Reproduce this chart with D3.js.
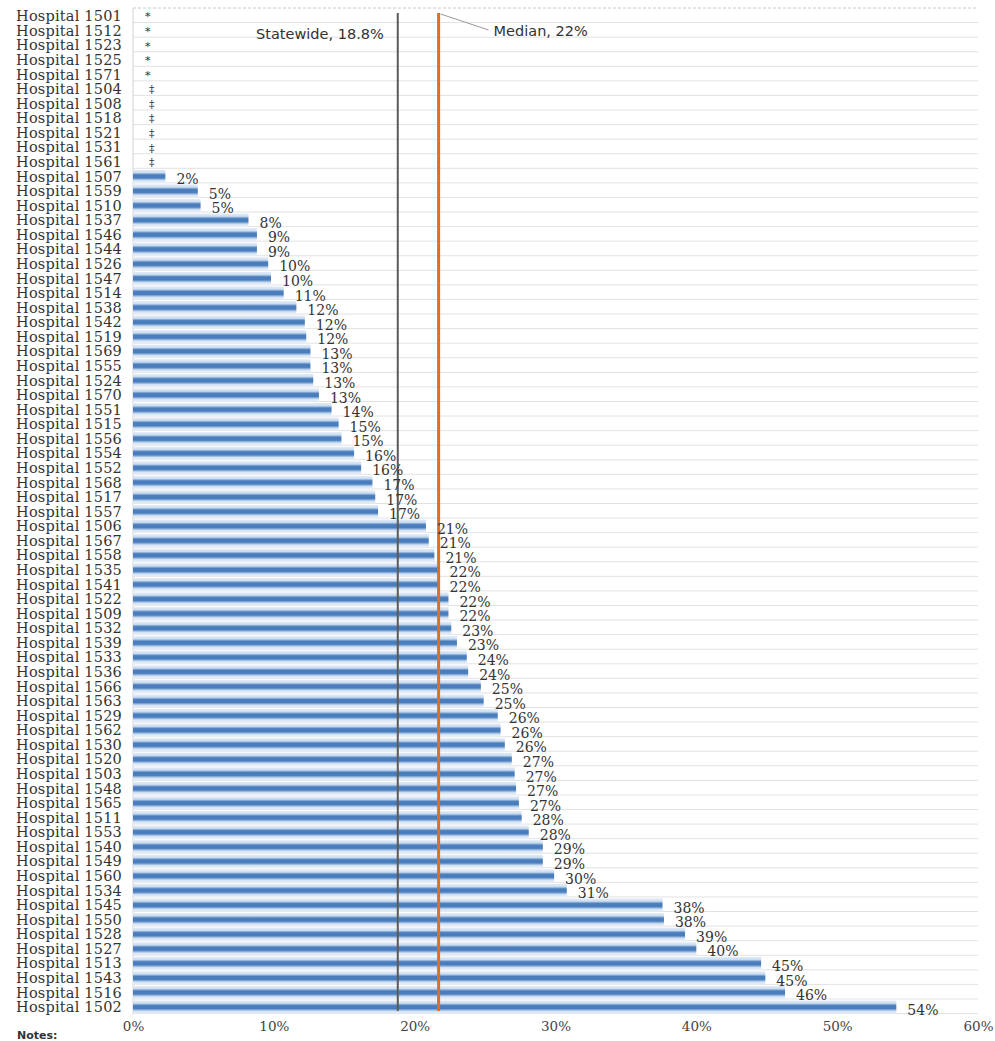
<!DOCTYPE html>
<html>
<head>
<meta charset="utf-8">
<script src="https://cdn.jsdelivr.net/npm/d3@7"></script>
<style>
  html, body { margin: 0; padding: 0; background: #fff; }
  svg { display: block; }
</style>
</head>
<body>
<svg id="chart" width="995" height="1041"></svg>
<script>
// Hospitals, top to bottom
const hospitals = [
  "Hospital 1501", "Hospital 1512", "Hospital 1523", "Hospital 1525", "Hospital 1571",
  "Hospital 1504", "Hospital 1508", "Hospital 1518", "Hospital 1521", "Hospital 1531", "Hospital 1561",
  "Hospital 1507", "Hospital 1559", "Hospital 1510", "Hospital 1537", "Hospital 1546", "Hospital 1544",
  "Hospital 1526", "Hospital 1547", "Hospital 1514", "Hospital 1538", "Hospital 1542", "Hospital 1519",
  "Hospital 1569", "Hospital 1555", "Hospital 1524", "Hospital 1570", "Hospital 1551", "Hospital 1515",
  "Hospital 1556", "Hospital 1554", "Hospital 1552", "Hospital 1568", "Hospital 1517", "Hospital 1557",
  "Hospital 1506", "Hospital 1567", "Hospital 1558", "Hospital 1535", "Hospital 1541", "Hospital 1522",
  "Hospital 1509", "Hospital 1532", "Hospital 1539", "Hospital 1533", "Hospital 1536", "Hospital 1566",
  "Hospital 1563", "Hospital 1529", "Hospital 1562", "Hospital 1530", "Hospital 1520", "Hospital 1503",
  "Hospital 1548", "Hospital 1565", "Hospital 1511", "Hospital 1553", "Hospital 1540", "Hospital 1549",
  "Hospital 1560", "Hospital 1534", "Hospital 1545", "Hospital 1550", "Hospital 1528", "Hospital 1527",
  "Hospital 1513", "Hospital 1543", "Hospital 1516", "Hospital 1502"
];

// Rate in percent; null where the rate is not reported
const rates = [
  null, null, null, null, null,
  null, null, null, null, null, null,
  2.3, 4.6, 4.8, 8.2, 8.8, 8.8,
  9.6, 9.8, 10.7, 11.6, 12.2, 12.3,
  12.6, 12.6, 12.8, 13.2, 14.1, 14.6,
  14.8, 15.7, 16.2, 17.0, 17.2, 17.4,
  20.8, 21.0, 21.4, 21.7, 21.7, 22.4,
  22.4, 22.6, 23.0, 23.7, 23.8, 24.7,
  24.9, 25.9, 26.1, 26.4, 26.9, 27.1,
  27.2, 27.4, 27.6, 28.1, 29.1, 29.1,
  29.9, 30.8, 37.6, 37.7, 39.2, 40.0,
  44.6, 44.9, 46.3, 54.2
];

// Footnote markers shown in place of unreported rates
const markers = [
  "*", "*", "*", "*", "*",
  "\u2021", "\u2021", "\u2021", "\u2021", "\u2021", "\u2021"
];

const xTicks = [0, 10, 20, 30, 40, 50, 60];
const statewide = 18.8;
const median = 21.7;

const W = 995, H = 1041;
const margin = { top: 8, right: 17, bottom: 26, left: 133 };

const svg = d3.select("#chart");

const x = d3.scaleLinear().domain([0, 60]).range([margin.left, W - margin.right]);
const y = d3.scaleBand().domain(hospitals).range([margin.top, H - margin.bottom]).padding(0.1);
const step = y.step();

// Bar shading: dark core, pale edges
const defs = svg.append("defs");
const grad = defs.append("linearGradient")
  .attr("id", "barFill").attr("x1", 0).attr("y1", 0).attr("x2", 0).attr("y2", 1);
[[0, "#e6eef8"], [0.22, "#c9dbef"], [0.36, "#5d8cc6"], [0.4, "#4a7dbb"], [0.62, "#4a7dbb"], [0.7, "#7fa6d5"], [0.82, "#d2e1f2"], [1, "#eaf1f9"]]
  .forEach(([o, c]) => grad.append("stop").attr("offset", o).attr("stop-color", c));

// Row gridlines
svg.append("g")
  .selectAll("line")
  .data(d3.range(hospitals.length + 1))
  .join("line")
  .attr("x1", margin.left).attr("x2", W - margin.right)
  .attr("y1", i => margin.top + i * step)
  .attr("y2", i => margin.top + i * step)
  .attr("stroke", i => i === 0 ? "#c8c8c8" : "#e2e2e2")
  .attr("stroke-dasharray", i => i === 0 ? "3,2" : null)
  .attr("stroke-width", 1);

// Left plot edge
svg.append("line")
  .attr("x1", margin.left).attr("x2", margin.left)
  .attr("y1", margin.top).attr("y2", H - margin.bottom)
  .attr("stroke", "#d4d4d4");

const rows = hospitals.map((h, i) => ({ name: h, value: rates[i], marker: markers[i] || null }));

// Bars
svg.append("g")
  .selectAll("rect")
  .data(rows.filter(d => d.value != null))
  .join("rect")
  .attr("x", x(0))
  .attr("y", d => y(d.name))
  .attr("width", d => x(d.value) - x(0))
  .attr("height", y.bandwidth())
  .attr("fill", "url(#barFill)");

// Reference lines
svg.append("line")
  .attr("x1", x(statewide)).attr("x2", x(statewide))
  .attr("y1", margin.top + 5).attr("y2", H - margin.bottom - 4)
  .attr("stroke", "#5a5a5a").attr("stroke-width", 2);

svg.append("line")
  .attr("x1", x(median)).attr("x2", x(median))
  .attr("y1", margin.top + 5).attr("y2", H - margin.bottom - 4)
  .attr("stroke", "#e36c1e").attr("stroke-width", 3);

// Category labels
svg.append("g")
  .selectAll("text")
  .data(rows)
  .join("text")
  .attr("x", margin.left - 11)
  .attr("y", d => y(d.name) + y.bandwidth() / 2)
  .attr("dy", "0.36em")
  .attr("text-anchor", "end")
  .attr("font-family", "DejaVu Serif")
  .attr("font-size", 14.5)
  .attr("letter-spacing", 0.2)
  .attr("fill", "#333")
  .text(d => d.name);

// Value labels and footnote markers
svg.append("g")
  .selectAll("text")
  .data(rows)
  .join("text")
  .attr("x", d => d.value != null ? x(d.value) + 11 : x(0) + (d.marker === "*" ? 12 : 16))
  .attr("y", d => y(d.name) + y.bandwidth() / 2)
  .attr("dy", d => d.value != null ? "0.55em" : "0.4em")
  .attr("font-family", "DejaVu Serif")
  .attr("font-size", d => d.value != null ? 14 : 11)
  .attr("fill", "#333")
  .text(d => d.value != null ? Math.round(d.value) + "%" : d.marker);

// X axis
const xAxis = d3.axisBottom(x)
  .tickValues(xTicks)
  .tickSize(0)
  .tickPadding(6)
  .tickFormat(d => d + "%");

svg.append("g")
  .attr("transform", `translate(0,${H - margin.bottom})`)
  .call(xAxis)
  .call(g => g.select(".domain").remove())
  .call(g => g.selectAll("text")
    .attr("font-family", "DejaVu Serif")
    .attr("font-size", 13.5)
    .attr("fill", "#444"));

// Annotations
svg.append("text")
  .attr("x", x(statewide) - 14)
  .attr("y", 39)
  .attr("text-anchor", "end")
  .attr("font-family", "DejaVu Sans")
  .attr("font-size", 14.5)
  .attr("fill", "#333")
  .text(`Statewide, ${statewide}%`);

svg.append("line")
  .attr("x1", x(median) + 2).attr("y1", 14)
  .attr("x2", x(median) + 50).attr("y2", 30)
  .attr("stroke", "#999").attr("stroke-width", 1);

svg.append("text")
  .attr("x", x(median) + 55)
  .attr("y", 36)
  .attr("font-family", "DejaVu Sans")
  .attr("font-size", 14.5)
  .attr("fill", "#333")
  .text(`Median, ${Math.round(median)}%`);

// Footnote heading
svg.append("text")
  .attr("x", 17)
  .attr("y", 1039)
  .attr("font-family", "DejaVu Sans")
  .attr("font-weight", "bold")
  .attr("font-size", 11)
  .attr("fill", "#333")
  .text("Notes:");
</script>
</body>
</html>
